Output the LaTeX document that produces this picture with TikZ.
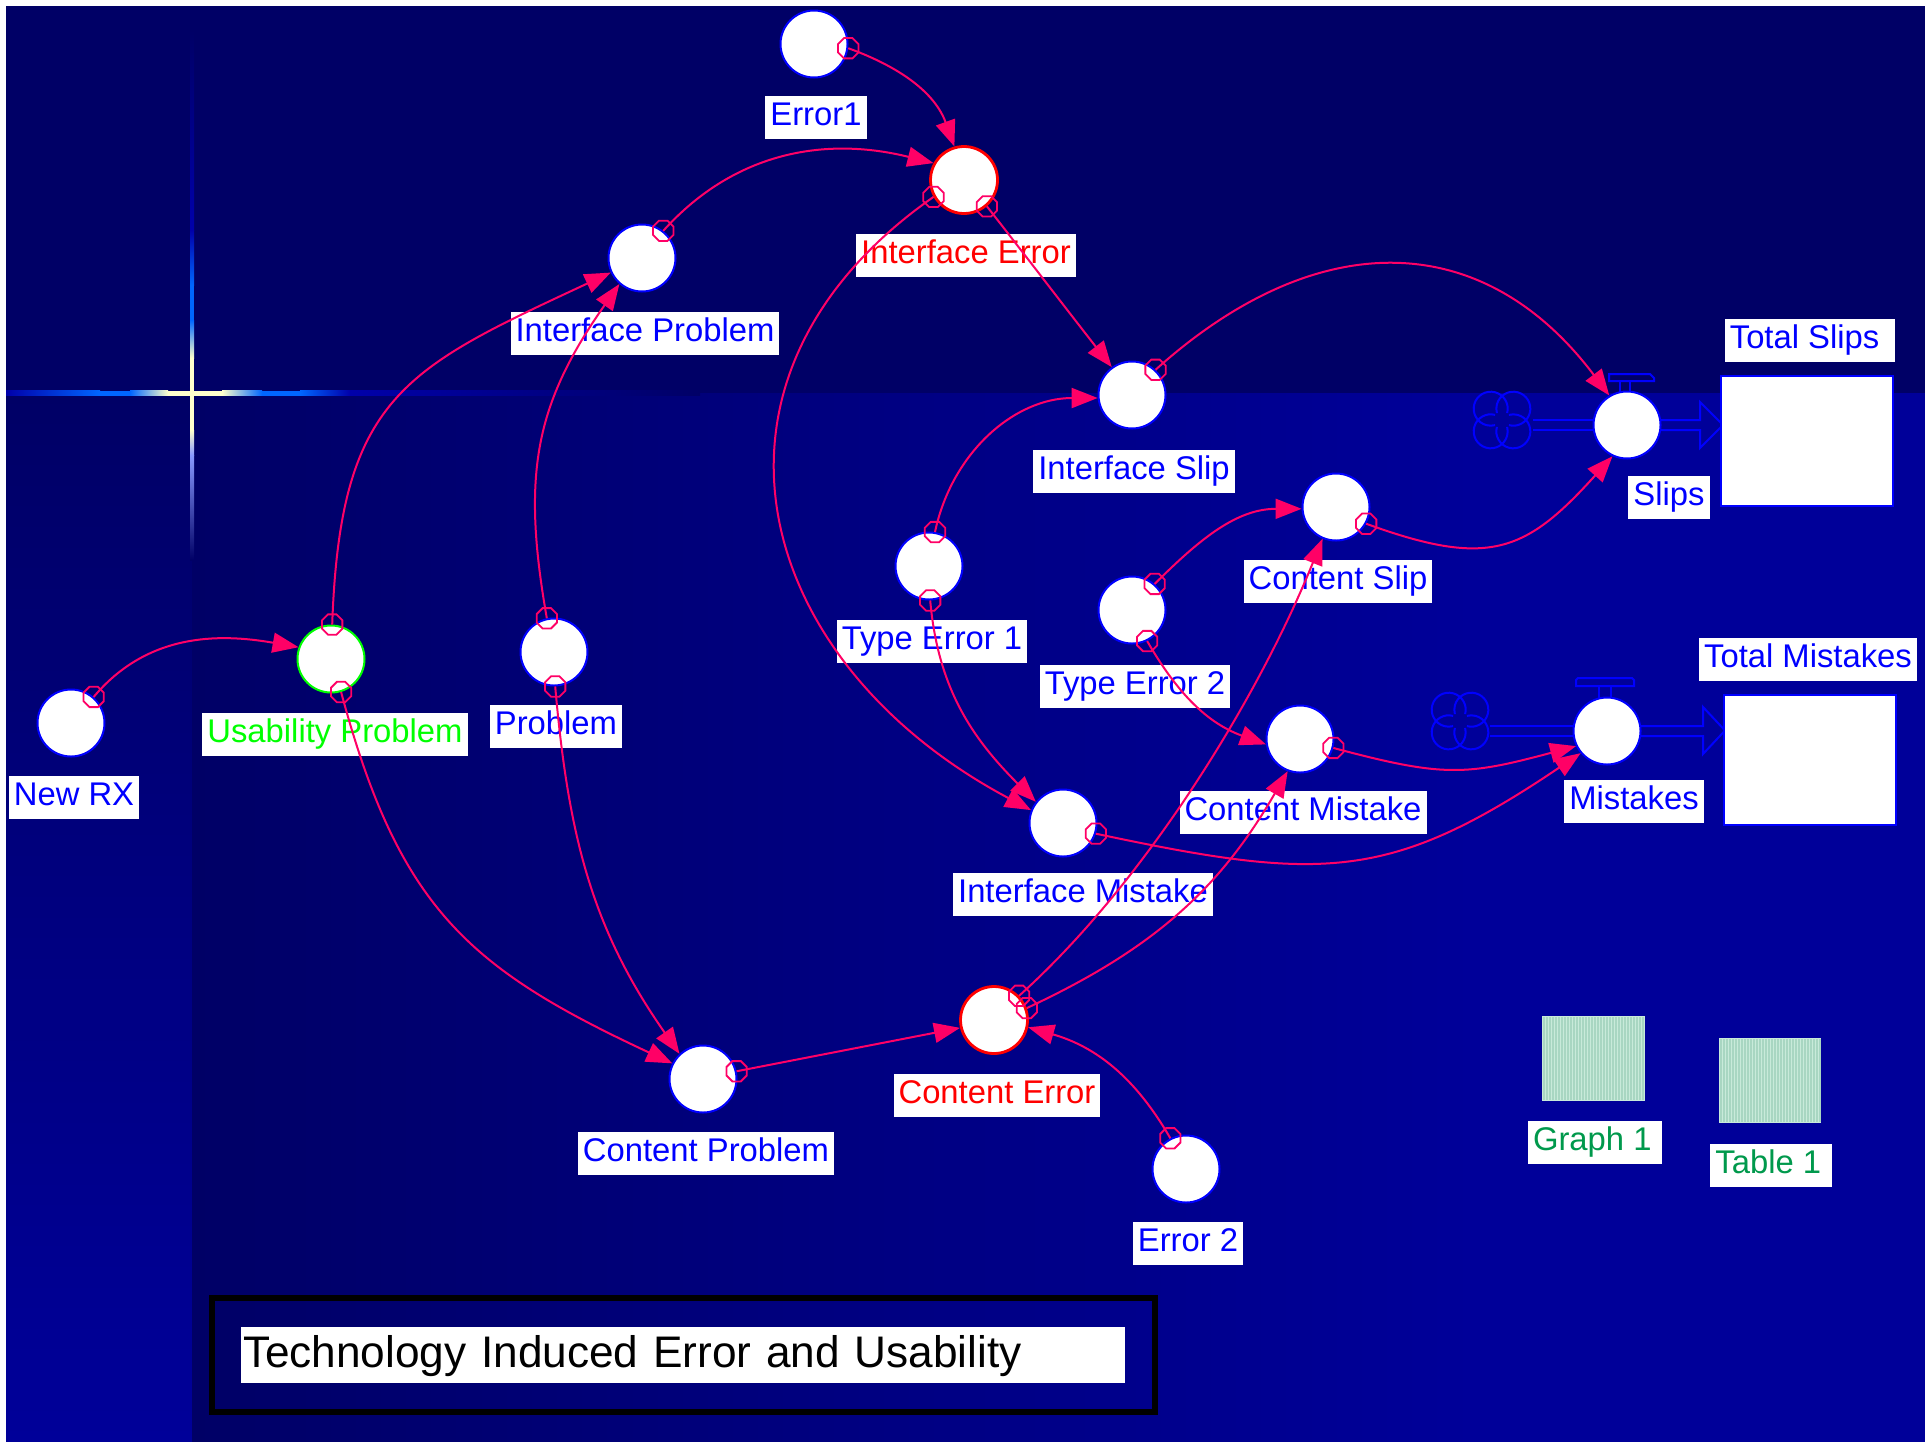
\documentclass[tikz,border=0pt]{standalone}
\usepackage{fontspec}
\setmainfont{Liberation Sans}
\usetikzlibrary{arrows.meta,shapes.geometric}
\definecolor{bgA}{RGB}{0,0,102}
\definecolor{bgB}{RGB}{0,0,153}
\definecolor{nodeblue}{RGB}{0,0,255}
\definecolor{linkpink}{RGB}{255,0,102}
\definecolor{errred}{RGB}{255,0,0}
\definecolor{usegreen}{RGB}{0,255,0}
\definecolor{iconmint}{RGB}{200,234,218}
\definecolor{iconstripe}{RGB}{168,214,194}
\definecolor{icongreen}{RGB}{0,153,76}
\definecolor{flareblue}{RGB}{0,102,255}
\definecolor{cream}{RGB}{255,255,204}
\definecolor{lav}{RGB}{136,153,255}
\definecolor{flaredim}{RGB}{0,0,170}
\pgfdeclarehorizontalshading{mainbg}{100bp}{color(0bp)=(bgA); color(25bp)=(bgA); color(62bp)=(bgB); color(100bp)=(bgB)}
\newcommand{\lblfont}{\fontsize{16.4pt}{19pt}\selectfont}
\newcommand{\ttlfont}{\fontsize{22.1pt}{26pt}\selectfont}
\newcommand{\sdcloud}[2]{%
  \foreach \t [evaluate=\t as \sa using \t-150, evaluate=\t as \ea using \t+150] in {45,135,225,315}{%
    \draw[flowline,shift={(#1,#2)}] (\t:16) ++(\sa:17) arc[start angle=\sa,end angle=\ea,radius=17];}}
\tikzset{
  auxnode/.style={circle,draw=nodeblue,fill=white,line width=1pt,minimum size=33.5pt,inner sep=0pt},
  lbl/.style={fill=white,text=nodeblue,font=\lblfont,inner xsep=2.5pt,inner ysep=0pt,
              minimum height=21.5pt,text height=12.3pt,text depth=3.6pt},
  conn/.style={draw=linkpink,line width=1pt,-{Triangle[length=13pt,width=10pt]}},
  octmark/.style={regular polygon,regular polygon sides=8,draw=linkpink,line width=0.9pt,
                  minimum size=11pt,inner sep=0pt},
  stockbox/.style={rectangle,draw=nodeblue,fill=white,line width=1.2pt,minimum width=86pt,
                   minimum height=65pt,inner sep=0pt},
  flowline/.style={draw=nodeblue,line width=1pt},
  iconbox/.style={rectangle,fill=iconmint,inner sep=0pt},
}
\begin{document}
\begin{tikzpicture}[x=0.5pt,y=0.5pt]
\useasboundingbox (0,0) rectangle (1925,-1441);
% background
\fill[white] (0,0) rectangle (1925,-1441);
\fill[bgA] (6,-6) rectangle (1925,-393);
\shade[top color=bgA,bottom color=bgB] (6,-393) rectangle (192,-1441);
\shade[shading=mainbg] (192,-393) rectangle (1925,-1441);
% flare (horizontal)
\shade[left color=flaredim,right color=flareblue] (6,-390.5) rectangle (100,-395.5);
\fill[flareblue] (100,-390.5) rectangle (130,-395.5);
\shade[left color=flareblue,right color=cream] (130,-390.5) rectangle (168,-395.5);
\fill[cream] (168,-390.5) rectangle (222,-395.5);
\shade[left color=cream,right color=flareblue] (222,-390.5) rectangle (262,-395.5);
\fill[flareblue] (262,-390.5) rectangle (300,-395.5);
\shade[left color=flareblue,right color=flaredim] (300,-390.5) rectangle (350,-395.5);
\shade[left color=flaredim,right color=bgA] (350,-390.5) rectangle (700,-395.5);
% flare (vertical)
\shade[top color=bgA,bottom color=flaredim] (190,-30) rectangle (194,-230);
\shade[top color=flaredim,bottom color=flareblue] (190,-230) rectangle (194,-285);
\fill[flareblue] (190,-285) rectangle (194,-320);
\shade[top color=flareblue,bottom color=cream] (190,-320) rectangle (194,-358);
\fill[cream] (190,-358) rectangle (194,-430);
\shade[top color=cream,bottom color=lav] (190,-430) rectangle (194,-455);
\shade[top color=lav,bottom color=bgA] (190,-455) rectangle (194,-560);

% flows: Slips
\sdcloud{1502}{-420}
\draw[flowline] (1533,-420) -- (1610,-420) (1533,-430) -- (1610,-430);
\draw[flowline] (1645,-420) -- (1700,-420) -- (1700,-402) -- (1723,-425) -- (1700,-448) -- (1700,-430) -- (1645,-430);
\draw[flowline] (1609,-381) -- (1609,-374) -- (1650,-374) -- (1654,-378) -- (1654,-381) -- cycle;
\draw[flowline] (1620,-381) -- (1620,-395) (1630,-381) -- (1630,-395);
% flows: Mistakes
\sdcloud{1460}{-721}
\draw[flowline] (1490,-726) -- (1590,-726) (1490,-736) -- (1590,-736);
\draw[flowline] (1625,-726) -- (1703,-726) -- (1703,-707) -- (1725,-730.5) -- (1703,-754) -- (1703,-736) -- (1625,-736);
\draw[flowline] (1576,-686) -- (1576,-680) -- (1578,-678) -- (1632,-678) -- (1634,-680) -- (1634,-686) -- cycle;
\draw[flowline] (1599,-686) -- (1599,-700) (1611,-686) -- (1611,-700);

% stocks
\node[stockbox] (totslips) at (1807,-441) {};
\node[stockbox] (totmist) at (1810,-760) {};

% auxiliaries
\node[auxnode] (e1) at (814,-44) {};
\node[auxnode,draw=errred,line width=1.4pt] (ie) at (964,-180) {};
\node[auxnode] (ip) at (642,-258) {};
\node[auxnode] (is) at (1132,-395) {};
\node[auxnode] (slips) at (1627,-425) {};
\node[auxnode] (cs) at (1336,-507) {};
\node[auxnode] (te1) at (929,-566) {};
\node[auxnode] (te2) at (1132,-610) {};
\node[auxnode,draw=usegreen] (up) at (331,-659) {};
\node[auxnode] (pr) at (554,-652) {};
\node[auxnode] (nrx) at (71,-723) {};
\node[auxnode] (cm) at (1300,-739) {};
\node[auxnode] (mist) at (1607,-731) {};
\node[auxnode] (im) at (1063,-823) {};
\node[auxnode,draw=errred,line width=1.4pt] (ce) at (994,-1020) {};
\node[auxnode] (cp) at (703,-1079) {};
\node[auxnode] (e2) at (1186,-1169) {};

% icons
\node[iconbox,minimum width=51.5pt,minimum height=42.5pt] (graph) at (1593.5,-1058.5) {};
\foreach \i in {1544,1547,...,1644} \draw[iconstripe,line width=0.6pt] (\i,-1017) -- (\i,-1100);
\node[iconbox,minimum width=51pt,minimum height=42.5pt] (table) at (1770,-1080.5) {};
\foreach \i in {1721,1724,...,1820} \draw[iconstripe,line width=0.6pt] (\i,-1039) -- (\i,-1122);

% labels
\node[lbl] (le1) at (816,-117) {Error1};
\node[lbl,text=errred] (lie) at (966,-255) {Interface Error};
\node[lbl] (lip) at (645,-333) {Interface Problem};
\node[lbl] (lis) at (1134,-471) {Interface Slip};
\node[lbl] (lslips) at (1669,-497) {Slips};
\node[lbl] (ltotslips) at (1810,-340) {Total Slips\,\,};
\node[lbl] (lcs) at (1338,-581) {Content Slip};
\node[lbl] (lte1) at (932,-641) {Type Error 1};
\node[lbl] (lte2) at (1135,-686) {Type Error 2};
\node[lbl,text=usegreen] (lup) at (335,-734) {Usability Problem};
\node[lbl] (lpr) at (556,-726) {Problem};
\node[lbl] (lnrx) at (74,-797) {New RX};
\node[lbl] (lcm) at (1303,-812) {Content Mistake};
\node[lbl] (lmist) at (1634,-801) {Mistakes};
\node[lbl] (ltotmist) at (1808,-659) {Total Mistakes};
\node[lbl] (lim) at (1083,-894) {Interface Mistake};
\node[lbl,text=errred] (lce) at (997,-1095) {Content Error};
\node[lbl] (lcp) at (706,-1153) {Content Problem};
\node[lbl] (le2) at (1188,-1243) {Error 2};
\node[lbl,text=icongreen] (lgraph) at (1595,-1142) {Graph 1\,};
\node[lbl,text=icongreen] (ltable) at (1771,-1165) {Table 1\,};

% title
\node[draw=black,line width=3pt,minimum width=471.5pt,minimum height=57pt,inner sep=0pt] (frame) at (683.5,-1355) {};
\node[fill=white,text=black,font=\ttlfont,text width=440pt,align=left,inner xsep=1pt,inner ysep=0pt,
      minimum height=28pt,text height=16.5pt,text depth=4.5pt] (title) at (683,-1355) {Technology Induced Error and Usability};

% connectors
\draw[conn] (e1.-7) node[octmark] (o1) {} to[out=-20,in=110] (ie.106);
\draw[conn] (ip.52) node[octmark] (o2) {} to[out=48,in=166] (ie.151);
\draw[conn] (up.88) node[octmark] (o3) {} to[out=88,in=205,looseness=1.3] (ip.205);
\draw[conn] (pr.102) node[octmark] (o4) {} to[out=100,in=235,looseness=1.1] (ip.229);
\draw[conn] (nrx.49) node[octmark] (o5) {} to[out=50,in=170] (up.160);
\draw[conn] (ie.-49) node[octmark] (o6) {} to[out=-52,in=128] (is.126);
\draw[conn] (ie.209) node[octmark] (o7) {} to[out=215,in=152,looseness=1.3] (im.158);
\draw[conn] (is.47) node[octmark] (o8) {} to[out=42,in=127,looseness=1.2] (slips.121);
\draw[conn] (te1.80) node[octmark] (o9) {} to[out=78,in=180] (is.185);
\draw[conn] (te1.-88) node[octmark] (o10) {} to[out=-85,in=135] (im.142);
\draw[conn] (cs.-29) node[octmark] (o11) {} to[out=-20,in=228,looseness=1.3] (slips.245);
\draw[conn] (te2.49) node[octmark] (o12) {} to[out=45,in=180] (cs.183);
\draw[conn] (te2.-64) node[octmark] (o13) {} to[out=-60,in=160] (cm.189);
\draw[conn] (cm.-15) node[octmark] (o14) {} to[out=-15,in=195,looseness=1.2] (mist.206);
\draw[conn] (im.-18) node[octmark] (o15) {} to[out=-12,in=214,looseness=1.2] (mist.220);
\draw[conn] (up.-73) node[octmark] (o16) {} to[out=-75,in=155,looseness=1.15] (cp.153);
\draw[conn] (pr.-88) node[octmark] (o17) {} to[out=-85,in=125] (cp.133);
\draw[conn] (cp.13) node[octmark] (o18) {} -- (ce.193);
\draw[conn] (ce.44) node[octmark] (o19) {} to[out=42,in=248,looseness=0.8] (cs.247);
\draw[conn] (ce.20) node[octmark] (o20) {} to[out=25,in=240] (cm.249);
\draw[conn] (e2.117) node[octmark] (o21) {} to[out=120,in=-16] (ce.-12);
\end{tikzpicture}
\end{document}
